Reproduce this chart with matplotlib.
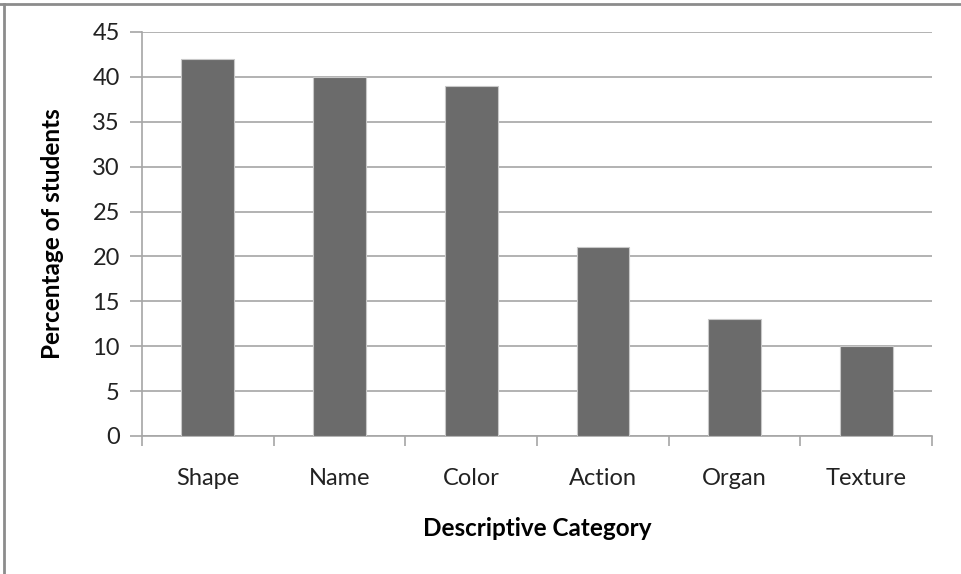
import matplotlib
matplotlib.use("Agg")
import matplotlib.pyplot as plt
from matplotlib.lines import Line2D

categories = ["Shape", "Name", "Color", "Action", "Organ", "Texture"]
values = [42, 40, 39, 21, 13, 10]
yticks = [0, 5, 10, 15, 20, 25, 30, 35, 40, 45]

plt.rcParams['font.family'] = ['Lato', 'DejaVu Sans']

W, H = 961, 574
fig = plt.figure(figsize=(W / 100, H / 100), dpi=100)
ax = fig.add_axes([142 / W, (H - 436) / H, (932 - 142) / W, (436 - 32) / H])

x = list(range(len(categories)))
ax.bar(x, values, width=0.40, color="#6b6b6b", edgecolor="#c8c8c8", linewidth=0.8, zorder=3)

ax.set_xlim(-0.5, len(categories) - 0.5)
ax.set_ylim(0, 45)
ax.set_yticks(yticks)
ax.set_yticklabels([str(v) for v in yticks], fontsize=17, color="#222222")
ax.yaxis.grid(True, color="#a6a6a6", linewidth=1.2, zorder=0)
ax.set_axisbelow(True)

# x ticks at category boundaries, labels at centers
ax.set_xticks([i - 0.5 for i in range(len(categories) + 1)])
ax.set_xticklabels([])
ax.set_xticks(x, minor=True)
ax.set_xticklabels(categories, minor=True, fontsize=17, color="#222222")
ax.tick_params(axis="x", which="major", length=7, color="#a6a6a6", width=1.2, direction="out")
ax.tick_params(axis="x", which="minor", length=0, pad=23)
ax.tick_params(axis="y", length=9, color="#a6a6a6", width=1.2, pad=7)

for s in ["top", "right"]:
    ax.spines[s].set_visible(False)
for s in ["left", "bottom"]:
    ax.spines[s].set_color("#a6a6a6")
    ax.spines[s].set_linewidth(1.2)

ax.set_ylabel("Percentage of students", fontsize=17.5, fontweight="bold", labelpad=20)
ax.set_xlabel("Descriptive Category", fontsize=17.5, fontweight="bold", labelpad=20)

# figure border (top and left)
fig.add_artist(Line2D([0, 1], [1 - 3.5 / H, 1 - 3.5 / H], transform=fig.transFigure, color="#8c8c8c", linewidth=2))
fig.add_artist(Line2D([3.5 / W, 3.5 / W], [0, 1 - 3.5 / H], transform=fig.transFigure, color="#8c8c8c", linewidth=2))

fig.savefig("out.png", dpi=100)
